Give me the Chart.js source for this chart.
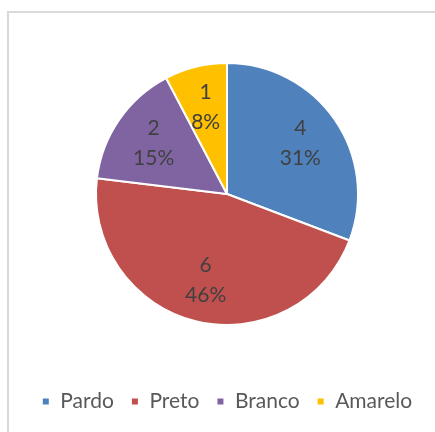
<!DOCTYPE html>
<html>
<head>
<meta charset="utf-8">
<script src="https://cdn.jsdelivr.net/npm/chart.js@4"></script>
<style>
  html, body { margin: 0; padding: 0; background: #fff; }
  #wrap { position: relative; width: 435px; height: 432px; overflow: hidden; }
  #frame {
    position: absolute; left: 7px; top: 11px; width: 500px; height: 500px;
    border-top: 2px solid #d9d9d9; border-left: 2px solid #d9d9d9; pointer-events: none;
  }
  canvas { position: absolute; left: 0; top: 0; }
</style>
</head>
<body>
<div id="wrap">
  <canvas id="myChart" width="435" height="432"></canvas>
  <div id="frame"></div>
</div>
<script>
const categories = ['Pardo', 'Preto', 'Branco', 'Amarelo'];
const values = [4, 6, 2, 1];
const colors = ['#4F81BD', '#C0504D', '#8064A2', '#FFC000'];

// draws "value / percent" inside each slice
const sliceLabels = {
    id: 'sliceLabels',
    afterDatasetsDraw(chart) {
        const ctx = chart.ctx;
        const meta = chart.getDatasetMeta(0);
        const total = values.reduce((a, b) => a + b, 0);
        ctx.save();
        ctx.fillStyle = '#404040';
        ctx.font = '21px Lato, "Liberation Sans", sans-serif';
        ctx.textAlign = 'center';
        ctx.textBaseline = 'middle';
        meta.data.forEach((arc, i) => {
            const p = arc.getProps(['x', 'y', 'startAngle', 'endAngle', 'outerRadius'], true);
            const mid = (p.startAngle + p.endAngle) / 2;
            const r = p.outerRadius * 0.68;
            const x = p.x + Math.cos(mid) * r;
            const y = p.y + Math.sin(mid) * r;
            ctx.fillText(String(values[i]), x, y - 15);
            ctx.fillText(Math.round(values[i] / total * 100) + '%', x, y + 15);
        });
        ctx.restore();
    }
};

const ctx = document.getElementById('myChart').getContext('2d');
new Chart(ctx, {
    type: 'pie',
    data: {
        labels: categories,
        datasets: [{
            data: values,
            backgroundColor: colors,
            borderColor: '#ffffff',
            borderWidth: 2,
            radius: 131
        }]
    },
    options: {
        responsive: false,
        animation: false,
        layout: { padding: { top: 14, left: 19, bottom: 10 } },
        plugins: {
            tooltip: { enabled: false },
            legend: {
                position: 'bottom',
                labels: {
                    usePointStyle: true,
                    pointStyle: 'rect',
                    boxWidth: 8,
                    boxHeight: 8,
                    padding: 17,
                    color: '#595959',
                    font: { family: 'Lato, "Liberation Sans", sans-serif', size: 21 }
                }
            }
        }
    },
    plugins: [sliceLabels]
});
</script>
</body>
</html>
